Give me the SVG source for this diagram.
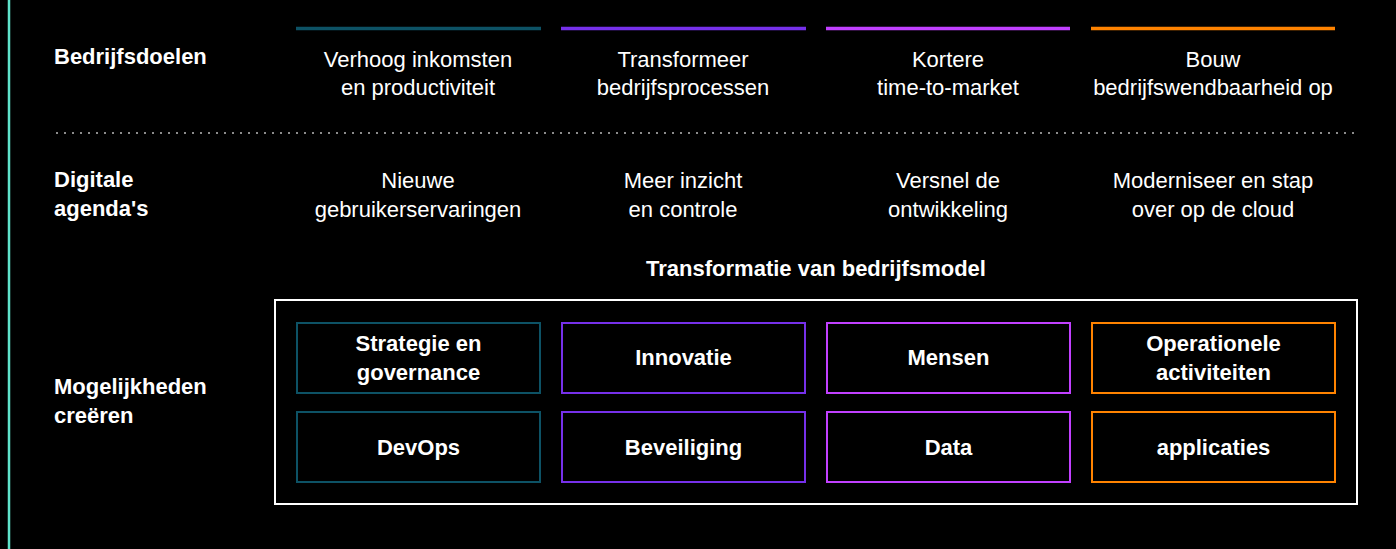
<svg xmlns="http://www.w3.org/2000/svg" width="1396" height="549" viewBox="0 0 1396 549">
<style>
text{font-family:"Liberation Sans",Arial,sans-serif;fill:#ffffff}
.lbl{font-size:22px;font-weight:bold}
.col{font-size:22px;text-anchor:middle}
.ttl{font-size:22px;font-weight:bold;text-anchor:middle}
.bx{font-size:22px;font-weight:bold;text-anchor:middle}
.box{fill:none;stroke-width:2}
.c1{stroke:#0d5265}.c2{stroke:#7630ea}.c3{stroke:#c140ff}.c4{stroke:#ff8300}
</style>
<rect x="0" y="0" width="1396" height="549" fill="#000000"/>
<line x1="9" y1="0" x2="9" y2="549" stroke="#5fe3cb" stroke-width="2.5"/>
<g id="goal-lines">
<line class="c1" x1="296" y1="28.5" x2="541" y2="28.5" stroke-width="3.5"/>
<line class="c2" x1="561" y1="28.5" x2="806" y2="28.5" stroke-width="3.5"/>
<line class="c3" x1="826" y1="28.5" x2="1070" y2="28.5" stroke-width="3.5"/>
<line class="c4" x1="1091" y1="28.5" x2="1335" y2="28.5" stroke-width="3.5"/>
</g>
<line x1="56" y1="133" x2="1358" y2="133" stroke="#8c8c8c" stroke-width="2" stroke-dasharray="2 6"/>
<g id="row-labels">
<text class="lbl" x="54" y="64">Bedrijfsdoelen</text>
<text class="lbl" x="54" y="187">Digitale</text>
<text class="lbl" x="54" y="216">agenda's</text>
<text class="lbl" x="54" y="394">Mogelijkheden</text>
<text class="lbl" x="54" y="423">creëren</text>
</g>
<g id="goals">
<text class="col" x="418" y="67">Verhoog inkomsten</text>
<text class="col" x="418" y="95">en productiviteit</text>
<text class="col" x="683" y="67">Transformeer</text>
<text class="col" x="683" y="95">bedrijfsprocessen</text>
<text class="col" x="948" y="67">Kortere</text>
<text class="col" x="948" y="95">time-to-market</text>
<text class="col" x="1213" y="67">Bouw</text>
<text class="col" x="1213" y="95">bedrijfswendbaarheid op</text>
</g>
<g id="agendas">
<text class="col" x="418" y="188">Nieuwe</text>
<text class="col" x="418" y="217">gebruikerservaringen</text>
<text class="col" x="683" y="188">Meer inzicht</text>
<text class="col" x="683" y="217">en controle</text>
<text class="col" x="948" y="188">Versnel de</text>
<text class="col" x="948" y="217">ontwikkeling</text>
<text class="col" x="1213" y="188">Moderniseer en stap</text>
<text class="col" x="1213" y="217">over op de cloud</text>
</g>
<text class="ttl" x="816" y="276">Transformatie van bedrijfsmodel</text>
<g id="container"><rect x="275" y="300" width="1082" height="204" fill="none" stroke="#ffffff" stroke-width="2"/></g>
<g id="strategie"><rect class="box c1" x="297" y="323" width="243" height="70"/><text class="bx" x="418.5" y="351">Strategie en</text><text class="bx" x="418.5" y="380">governance</text></g>
<g id="innovatie"><rect class="box c2" x="562" y="323" width="243" height="70"/><text class="bx" x="683.5" y="365">Innovatie</text></g>
<g id="mensen"><rect class="box c3" x="827" y="323" width="243" height="70"/><text class="bx" x="948.5" y="365">Mensen</text></g>
<g id="operationele"><rect class="box c4" x="1092" y="323" width="243" height="70"/><text class="bx" x="1213.5" y="351">Operationele</text><text class="bx" x="1213.5" y="380">activiteiten</text></g>
<g id="devops"><rect class="box c1" x="297" y="412" width="243" height="70"/><text class="bx" x="418.5" y="455">DevOps</text></g>
<g id="beveiliging"><rect class="box c2" x="562" y="412" width="243" height="70"/><text class="bx" x="683.5" y="455">Beveiliging</text></g>
<g id="data"><rect class="box c3" x="827" y="412" width="243" height="70"/><text class="bx" x="948.5" y="455">Data</text></g>
<g id="applicaties"><rect class="box c4" x="1092" y="412" width="243" height="70"/><text class="bx" x="1213.5" y="455">applicaties</text></g>
<g id="connectors"></g>
</svg>
